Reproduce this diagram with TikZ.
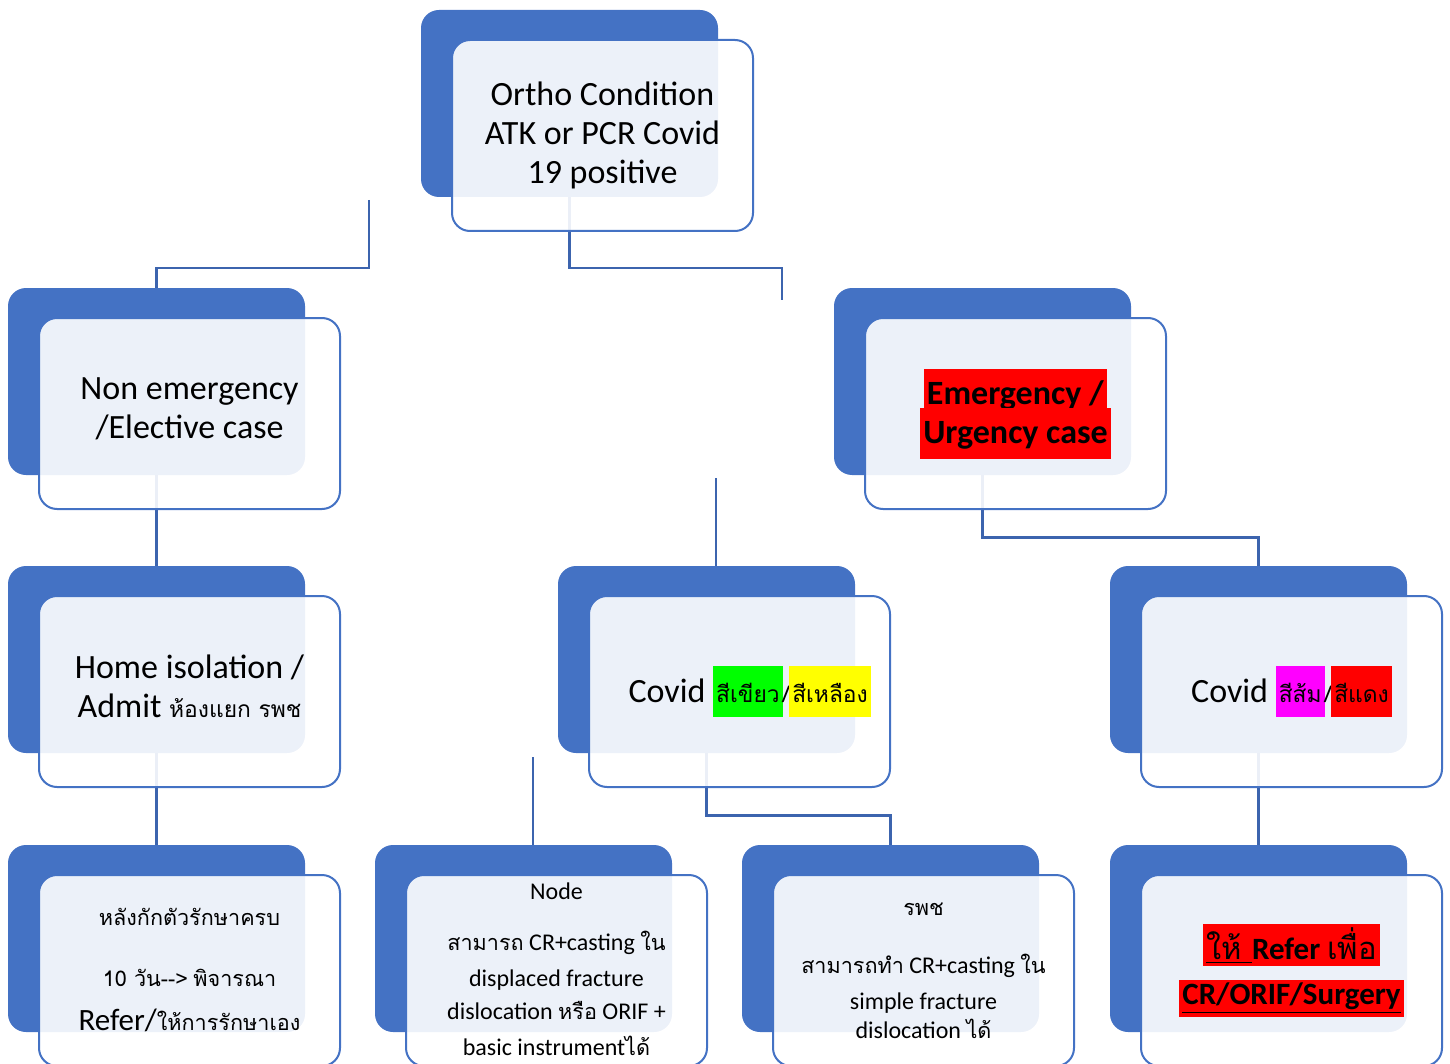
\documentclass[tikz,border=0pt]{standalone}
\usepackage{fontspec}
\setmainfont{Carlito}
\newfontfamily\thaifont[Script=Thai]{Loma}
\usetikzlibrary{positioning,calc,backgrounds}
\definecolor{cardblue}{HTML}{4472C4}
\definecolor{linkblue}{HTML}{3C64AE}
\definecolor{hlgreen}{HTML}{00FF00}
\definecolor{hlyellow}{HTML}{FFFF00}
\definecolor{hlmagenta}{HTML}{FF00FF}
\definecolor{hlred}{HTML}{FF0000}
\newcommand{\tht}[2][11.4]{{\fontsize{#1}{#1}\thaifont #2}}
\newcommand{\hilite}[2]{{\setlength{\fboxsep}{1.5pt}\colorbox{#1}{\rule[-6pt]{0pt}{22.5pt}#2}}}

\begin{document}
\begin{tikzpicture}[x=0.5pt,y=-0.5pt,
		back/.style={fill=cardblue, rounded corners=9pt, minimum width=148.5pt, minimum height=93.5pt, inner sep=0pt},
		front/.style={draw=cardblue, line width=1pt, fill=white, fill opacity=0.9, text opacity=1, rounded corners=9pt,
			minimum width=150.5pt, minimum height=95.5pt, inner sep=0pt, align=center, font=\fontsize{17}{19.5}\selectfont},
		small/.style={font=\fontsize{12}{18}\selectfont},
		link/.style={draw=linkblue, line width=1.1pt}]
		\useasboundingbox (0,0) rectangle (1450,1064);

		%top: the condition itself
		\node[back] (ortho-b) at (569.5,103.5) {};
		\node[front] (ortho) at ($(ortho-b)+(33,32)$) {Ortho Condition\\ATK or PCR Covid\\19 positive};

		%second row, the two kinds of case
		\node[back] (nonemerg-b) at (156.5,381.5) {};
		\node[front, text depth=5.5pt] (nonemerg) at ($(nonemerg-b)+(33,32)$) {Non emergency\\/Elective case};
		\node[back] (emerg-b) at (982.5,381.5) {};
		\node[front] (emerg) at ($(emerg-b)+(33,32)$) {\hilite{hlred}{\textbf{Emergency /}}\\[-7pt]\hilite{hlred}{\textbf{Urgency case}}};

		%third row
		\node[back] (home-b) at (156.5,659.5) {};
		\node[front, text depth=5.5pt] (home) at ($(home-b)+(33,32)$) {Home isolation /\\Admit \tht{ห้องแยก รพช}};
		\node[back] (greencovid-b) at (706.5,659.5) {};
		\node[front] (greencovid) at ($(greencovid-b)+(33,32)$) {\hspace*{0.6em}Covid \hilite{hlgreen}{\tht{สีเขียว}}\tht{/}\hilite{hlyellow}{\tht{สีเหลือง}}};
		\node[back] (redcovid-b) at (1258.5,659.5) {};
		\node[front] (redcovid) at ($(redcovid-b)+(33,32)$) {Covid \hilite{hlmagenta}{\tht{สีส้ม}}\tht{/}\hilite{hlred}{\tht{สีแดง}}};

		%bottom row
		\node[back] (afterdays-b) at (156.5,938.5) {};
		\node[front, small] (afterdays) at ($(afterdays-b)+(33,32)$) {\tht[10.8]{หลังกักตัวรักษาครบ}\\[12.5pt]
			\tht[10.8]{10 วัน-{}->} \tht[10.8]{พิจารณา}\\[4pt]
			{\fontsize{15.5}{18}\selectfont Refer/}\tht[10.8]{ให้การรักษาเอง}};
		\node[back] (nodecr-b) at (523.5,938.5) {};
		\node[front, small] (nodecr) at ($(nodecr-b)+(33,32)$) {Node\\[7.5pt]
			\tht[10.8]{สามารถ} CR+casting \tht[10.8]{ใน}\\displaced fracture\\[-1.5pt]dislocation \tht[10.8]{หรือ} ORIF +\\basic instrument\tht[10.8]{ได้}\\[-17pt]};
		\node[back] (hospcr-b) at (890.5,938.5) {};
		\node[front, small] (hospcr) at ($(hospcr-b)+(33,32)$) {\tht[10.8]{รพช}\\[11pt]
			\tht[10.8]{สามารถทำ} CR+casting \tht[10.8]{ใน}\\simple fracture\\[-3.5pt]dislocation \tht[10.8]{ได้}};
		\node[back] (refer-b) at (1258.5,938.5) {};
		\node[front, font=\fontsize{15.5}{22.5}\selectfont] (refer) at ($(refer-b)+(33,32)$) {{\setlength{\fboxsep}{1.5pt}\colorbox{hlred}{\underline{\tht[15.5]{ให้ }}\textbf{Refer} \tht[15.5]{เพื่อ}}}\\
			{\setlength{\fboxsep}{1.5pt}\colorbox{hlred}{\textbf{\underline{CR/ORIF/Surgery}}}}};

		%free ends of the connectors
		\coordinate (k1) at (369,200);
		\coordinate (k2) at (782,300);
		\coordinate (k3) at (716,478);
		\coordinate (k4) at (533,757);

		%connectors go behind the cards
		\begin{pgfonlayer}{background}
			\draw[link] (k1) -- ++(0,68) -| (nonemerg-b.north);
			\draw[link] (ortho-b.south) -- ++(0,71) -| (k2);
			\draw[link] (nonemerg-b.south) -- (home-b.north);
			\draw[link] (home-b.south) -- (afterdays-b.north);
			\draw[link] (k3) -- (k3 |- greencovid-b.north);
			\draw[link] (emerg-b.south) -- ++(0,62) -| (redcovid-b.north);
			\draw[link] (k4) -- (k4 |- nodecr-b.north);
			\draw[link] (greencovid-b.south) -- ++(0,62) -| (hospcr-b.north);
			\draw[link] (redcovid-b.south) -- (refer-b.north);
		\end{pgfonlayer}
	\end{tikzpicture}
\end{document}
